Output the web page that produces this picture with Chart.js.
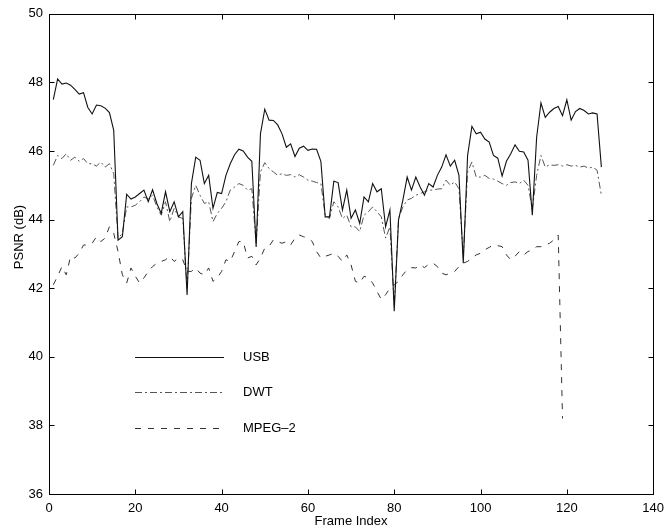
<!DOCTYPE html>
<html>
<head>
<meta charset="utf-8">
<script src="https://cdn.jsdelivr.net/npm/chart.js@4.4.0/dist/chart.umd.min.js"></script>
<style>
html, body { margin: 0; padding: 0; background: #fff; }
#wrap { width: 671px; height: 531px; }
</style>
</head>
<body>
<div id="wrap"><canvas id="psnr-chart" width="671" height="531"></canvas></div>
<script>
// PSNR per frame
const usbValues = [
  47.5, 48.1, 47.95, 47.98, 47.92, 47.8, 47.66, 47.7, 47.27, 47.08, 47.34, 47.32, 47.25, 47.12, 46.6, 43.4,
  43.5, 44.74, 44.6, 44.66, 44.76, 44.86, 44.52, 44.87, 44.47, 44.18, 44.81, 44.23, 44.52, 44.08, 44.23, 41.8,
  45.05, 45.82, 45.73, 45.05, 45.29, 44.33, 44.79, 44.76, 45.29, 45.63, 45.89, 46.05, 46.0, 45.82, 45.7, 43.2,
  46.5, 47.22, 46.9, 46.89, 46.76, 46.5, 46.11, 46.21, 45.84, 46.08, 46.14, 46.02, 46.06, 46.05, 45.7, 44.08,
  44.08, 45.12, 45.08, 44.28, 44.86, 44.04, 44.28, 43.89, 44.66, 44.52, 45.05, 44.81, 44.9, 43.79, 44.28, 41.33,
  43.99, 44.57, 45.24, 44.86, 45.24, 44.95, 44.71, 45.05, 44.95, 45.29, 45.53, 45.89, 45.56, 45.73, 45.29, 42.73,
  45.87, 46.72, 46.5, 46.55, 46.35, 46.26, 45.87, 45.79, 45.27, 45.7, 45.92, 46.18, 45.99, 45.97, 45.73, 44.13,
  46.4, 47.4, 46.98, 47.13, 47.24, 47.3, 47.03, 47.49, 46.9, 47.15, 47.24, 47.18, 47.08, 47.11, 47.08, 45.53
];
const dwtValues = [
  45.58, 45.87, 45.78, 45.92, 45.73, 45.82, 45.7, 45.78, 45.63, 45.63, 45.56, 45.68, 45.53, 45.63, 45.34, 43.45,
  43.6, 44.37, 44.37, 44.42, 44.52, 44.66, 44.6, 44.71, 44.37, 44.13, 44.52, 43.94, 44.33, 44.08, 44.03, 42.0,
  44.62, 45.0, 44.71, 44.47, 44.52, 43.94, 44.18, 44.33, 44.52, 44.86, 44.95, 45.05, 45.0, 44.86, 44.9, 43.3,
  45.39, 45.66, 45.49, 45.39, 45.29, 45.34, 45.29, 45.31, 45.24, 45.31, 45.24, 45.15, 45.12, 45.08, 45.05, 44.13,
  44.03, 44.52, 44.37, 44.03, 44.13, 43.79, 43.79, 43.65, 44.13, 44.23, 44.37, 44.23, 44.08, 43.46, 43.79, 41.5,
  44.03, 44.37, 44.57, 44.62, 44.71, 44.76, 44.81, 44.86, 44.86, 44.89, 44.9, 45.15, 45.0, 45.1, 44.9, 42.9,
  45.39, 45.68, 45.24, 45.24, 45.29, 45.2, 45.18, 45.12, 45.05, 45.0, 45.08, 45.1, 45.05, 45.15, 45.0, 44.3,
  45.29, 45.87, 45.53, 45.6, 45.58, 45.6, 45.56, 45.6, 45.56, 45.58, 45.53, 45.56, 45.5, 45.53, 45.44, 44.71
];
const mpegValues = [
  42.1, 42.35, 42.63, 42.39, 42.93, 42.88, 43.02, 43.26, 43.26, 43.31, 43.5, 43.36, 43.46, 43.79, 43.6, 43.07,
  42.39, 42.15, 42.59, 42.35, 42.15, 42.3, 42.49, 42.63, 42.73, 42.78, 42.83, 42.93, 42.78, 42.88, 42.83, 42.49,
  42.49, 42.59, 42.44, 42.39, 42.59, 42.2, 42.3, 42.49, 42.83, 42.78, 43.07, 43.36, 43.36, 42.88, 42.93, 42.68,
  42.88, 43.17, 43.22, 43.41, 43.36, 43.31, 43.36, 43.26, 43.46, 43.55, 43.5, 43.46, 43.36, 43.07, 42.88, 42.93,
  42.97, 43.02, 42.93, 42.78, 42.97, 42.68, 42.2, 42.15, 42.35, 42.3, 42.15, 41.91, 41.67, 41.81, 42.0, 42.1,
  42.2, 42.39, 42.54, 42.6, 42.59, 42.68, 42.6, 42.7, 42.73, 42.63, 42.44, 42.39, 42.44, 42.49, 42.63, 42.73,
  42.78, 42.88, 42.97, 43.02, 43.12, 43.19, 43.26, 43.24, 43.21, 42.97, 42.83, 42.93, 43.07, 42.97, 43.07, 43.12,
  43.21, 43.21, 43.26, 43.31, 43.41, 43.55, 38.2
];
const seriesNames = ['USB', 'DWT', 'MPEG\u20132'];
const xTicks = [0, 20, 40, 60, 80, 100, 120, 140];
const yTicks = [36, 38, 40, 42, 44, 46, 48, 50];

const FONT = 'Arial, "Liberation Sans", Helvetica, sans-serif';

function toPoints(values) {
  return values.map((v, i) => ({ x: i + 1, y: v }));
}

// box, inward ticks, y label and legend (MATLAB look)
const frameAndLegend = {
  id: 'frameAndLegend',
  afterDraw(chart) {
    const ctx = chart.ctx;
    const area = chart.chartArea;
    const xs = chart.scales.x, ys = chart.scales.y;
    const L = Math.round(area.left) + 0.5, R = Math.round(area.right) + 0.5;
    const T = Math.round(area.top) + 0.5, B = Math.round(area.bottom) + 0.5;
    ctx.save();
    ctx.strokeStyle = '#000';
    ctx.lineWidth = 1;
    ctx.setLineDash([]);
    ctx.strokeRect(L, T, R - L, B - T);
    ctx.beginPath();
    xTicks.forEach(t => {
      const px = Math.round(xs.getPixelForValue(t)) + 0.5;
      ctx.moveTo(px, B); ctx.lineTo(px, B - 5);
      ctx.moveTo(px, T); ctx.lineTo(px, T + 5);
    });
    yTicks.forEach(t => {
      const py = Math.round(ys.getPixelForValue(t)) + 0.5;
      ctx.moveTo(L, py); ctx.lineTo(L + 5, py);
      ctx.moveTo(R, py); ctx.lineTo(R - 5, py);
    });
    ctx.stroke();

    // y axis label
    ctx.fillStyle = '#000';
    ctx.font = '13px ' + FONT;
    ctx.textAlign = 'center';
    ctx.textBaseline = 'middle';
    ctx.translate(19, 237);
    ctx.rotate(-Math.PI / 2);
    ctx.fillText('PSNR (dB)', 0, 0);
    ctx.restore();

    // legend
    ctx.save();
    ctx.font = '13px ' + FONT;
    ctx.textBaseline = 'middle';
    ctx.textAlign = 'left';
    const rows = [357, 392, 428];
    chart.data.datasets.forEach((ds, i) => {
      ctx.strokeStyle = ds.borderColor;
      ctx.lineWidth = ds.borderWidth;
      ctx.setLineDash(ds.borderDash || []);
      ctx.beginPath();
      ctx.moveTo(135, rows[i] + 0.5);
      ctx.lineTo(224, rows[i] + 0.5);
      ctx.stroke();
      ctx.fillStyle = '#000';
      ctx.fillText(ds.label, 243, rows[i]);
    });
    ctx.restore();
  }
};

const ctx = document.getElementById('psnr-chart').getContext('2d');
new Chart(ctx, {
  type: 'line',
  data: {
    datasets: [
      { label: seriesNames[0], data: toPoints(usbValues), borderColor: '#111', borderWidth: 1.1 },
      { label: seriesNames[1], data: toPoints(dwtValues), borderColor: '#555', borderWidth: 1, borderDash: [7, 3, 2, 3] },
      { label: seriesNames[2], data: toPoints(mpegValues), borderColor: '#333', borderWidth: 1, borderDash: [6, 7] }
    ]
  },
  options: {
    responsive: false,
    devicePixelRatio: 1,
    animation: false,
    elements: { point: { radius: 0 }, line: { tension: 0, fill: false } },
    layout: { padding: { top: 13, right: 12, left: 0, bottom: 0 } },
    plugins: {
      legend: { display: false },
      tooltip: { enabled: false }
    },
    scales: {
      x: {
        type: 'linear',
        min: 0,
        max: 140,
        afterBuildTicks: s => { s.ticks = xTicks.map(v => ({ value: v })); },
        afterFit: s => { s.height = 37; },
        ticks: { color: '#000', font: { family: FONT, size: 13 }, padding: 7, maxRotation: 0 },
        grid: { display: true, drawOnChartArea: false, drawTicks: false, color: 'rgba(0,0,0,0)' },
        border: { display: false },
        title: { display: true, text: 'Frame Index', color: '#000', font: { family: FONT, size: 13 }, padding: { top: 0, bottom: 2 } }
      },
      y: {
        type: 'linear',
        min: 36,
        max: 50,
        afterBuildTicks: s => { s.ticks = yTicks.map(v => ({ value: v })); },
        afterFit: s => { s.width = 49; },
        ticks: { color: '#000', font: { family: FONT, size: 13 }, padding: 6 },
        grid: { display: true, drawOnChartArea: false, drawTicks: false, color: 'rgba(0,0,0,0)' },
        border: { display: false }
      }
    }
  },
  plugins: [frameAndLegend]
});
</script>
</body>
</html>
